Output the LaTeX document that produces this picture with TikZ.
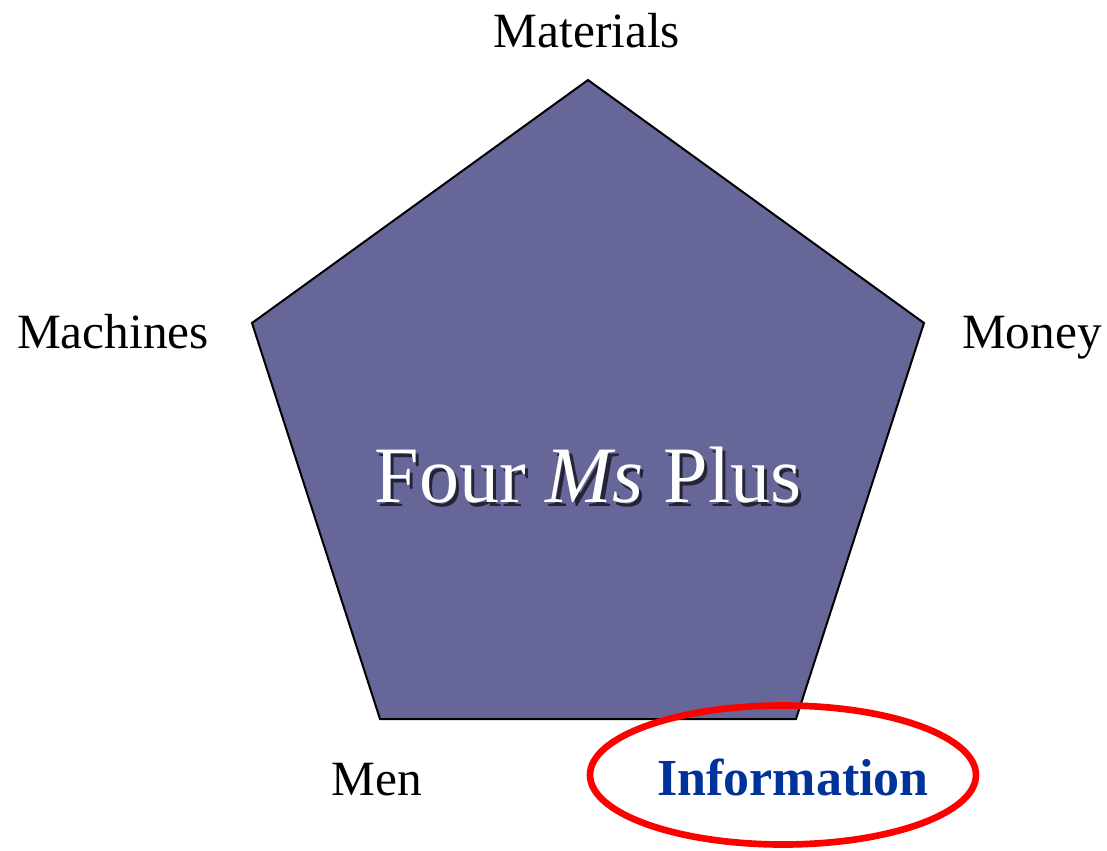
\documentclass[tikz,border=0pt]{standalone}
\usepackage{fontspec}
\setmainfont{Liberation Serif}
\usetikzlibrary{shapes.geometric, positioning}
\definecolor{penta}{HTML}{666699}
\definecolor{infoblue}{HTML}{003399}
\newcommand{\shadowtext}[1]{\leavevmode\rlap{\hspace{2.5pt}\raisebox{-3pt}{\color{penta!35!black}#1}}#1}

\begin{document}
\begin{tikzpicture}[x=0.75pt,y=-0.75pt,
		label/.style={anchor=base, font=\fontsize{37}{44}\selectfont},
		title/.style={anchor=base, font=\fontsize{60}{70}\selectfont}]
		\useasboundingbox (0,0) rectangle (1107,850);
		\coordinate (top) at (588,80);
		\coordinate (right) at (924,323);
		\coordinate (br) at (796,719);
		\coordinate (bl) at (380,719);
		\coordinate (left) at (252,323);
		\draw[fill=penta, line width=1.5pt, line join=miter] (top) -- (right) -- (br) -- (bl) -- (left) -- cycle;
		\node[title, text=white] (center) at (588,502) {\shadowtext{Four \textit{Ms} Plus}};
		\node[label] (materials) at (587,47) {Materials};
		\node[label] (machines) at (113,348) {Machines};
		\node[label] (money) at (1032,348) {Money};
		\node[label] (men) at (377,795) {Men};
		\node[label, text=infoblue, font=\fontsize{39}{44}\selectfont\bfseries] (info) at (793,795) {Information};
		\node[ellipse, draw=red, line width=5pt, minimum width=386pt*0.75, minimum height=139pt*0.75, inner sep=0pt] (ring) at (783,775) {};
	\end{tikzpicture}
\end{document}
